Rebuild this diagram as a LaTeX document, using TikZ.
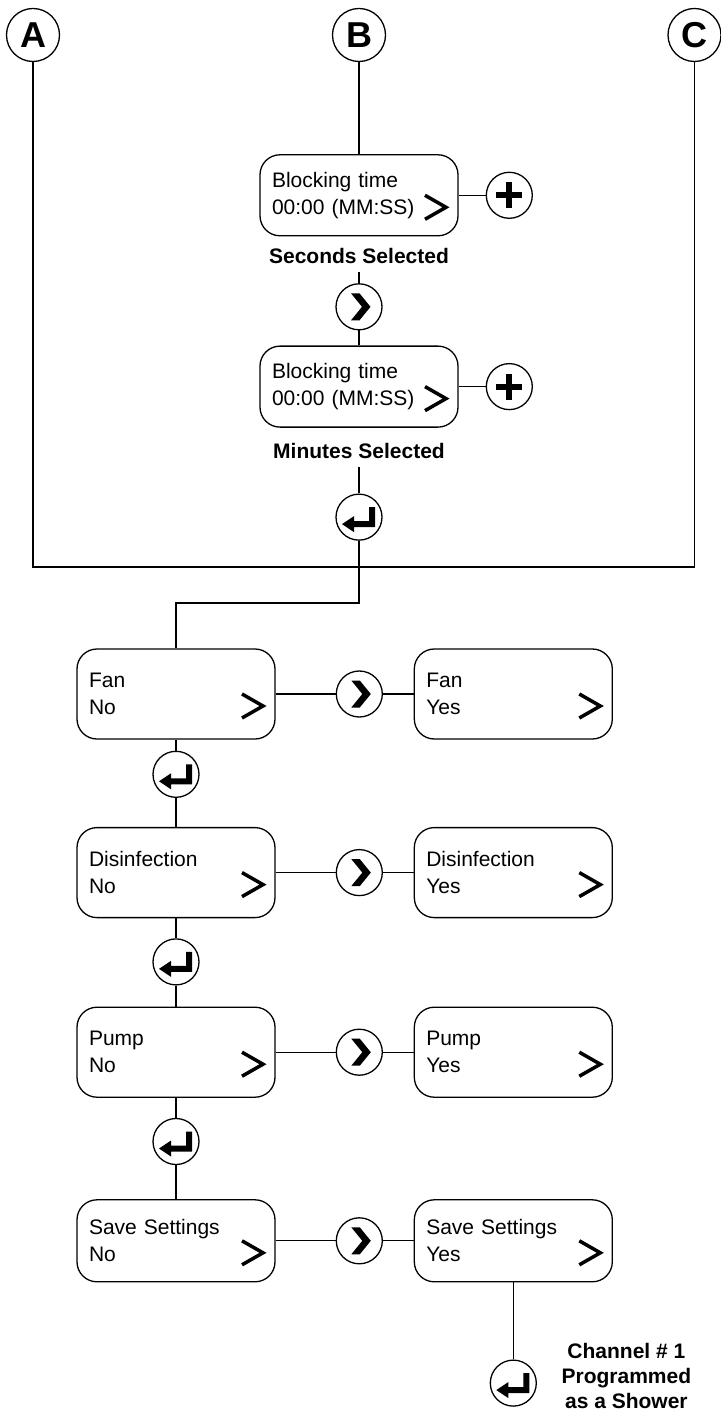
\documentclass[tikz,border=0pt]{standalone}
\usepackage{fontspec}
\setmainfont{Liberation Sans}
\usetikzlibrary{positioning}

\begin{document}
\begin{tikzpicture}[
  x=1pt,y=1pt,line width=0.65pt,
  disp/.style={rectangle,draw,rounded corners=10pt,minimum width=99pt,
               minimum height=45pt,text width=87pt,inner xsep=6pt,
               align=left,font=\fontsize{10.5}{13.5}\selectfont,
               path picture={\draw[sharp corners,line width=1.75pt]
                 ([xshift=-16.5pt,yshift=0pt]path picture bounding box.east)
                 -- ++(10.5pt,-6pt) -- ++(-10.5pt,-6pt);}},
  tag/.style={circle,draw,minimum size=26.5pt,inner sep=0pt,
              font=\fontsize{18}{18}\selectfont\bfseries},
  note/.style={inner xsep=0pt,inner ysep=4pt,align=center,
               font=\fontsize{10.5}{12.5}\selectfont\bfseries},
  btn/.style={circle,draw,minimum size=23pt,inner sep=0pt},
  nextbtn/.style={btn,path picture={\fill[sharp corners,
      shift={(path picture bounding box.center)}]
      (-4pt,6.75pt) -- (0.25pt,6.75pt) -- (5.75pt,0pt) -- (0.25pt,-6.75pt)
      -- (-4pt,-6.75pt) -- (1.5pt,0pt) -- cycle;}},
  plusbtn/.style={btn,path picture={\draw[line width=3pt,
      shift={(path picture bounding box.center)}]
      (-6.5pt,0pt) -- (6.5pt,0pt) (0pt,-6.5pt) -- (0pt,6.5pt);}},
  enterbtn/.style={btn,path picture={\fill[sharp corners,
      shift={(path picture bounding box.center)}]
      (8pt,5pt) -- (8pt,-5pt) -- (-2.5pt,-5pt) -- (-2.5pt,-7.5pt)
      -- (-8.5pt,-3.5pt) -- (-2.5pt,0.5pt) -- (-2.5pt,-2pt)
      -- (5pt,-2pt) -- (5pt,5pt) -- cycle;}}]

\useasboundingbox (0,0) rectangle (360.5,-708);

% entry points
\node[tag] (A) at (16.5,-17.5) {A};
\node[tag] (B) at (179.5,-17.5) {B};
\node[tag] (C) at (347.25,-17.5) {C};

% blocking time
\node[disp,minimum height=40.5pt,below=46pt of B] (sec) {Blocking time\\00:00 (MM:SS)};
\node[plusbtn,right=13.5pt of sec] (incs) {};
\node[note,below=1.5pt of sec] (secsel) {Seconds Selected};
\node[nextbtn,below=5.5pt of secsel] (nxt) {};
\node[disp,minimum height=40.5pt,below=7.5pt of nxt] (min) {Blocking time\\00:00 (MM:SS)};
\node[plusbtn,right=13.5pt of min] (incm) {};
\node[note,below=3.5pt of min] (minsel) {Minutes Selected};
\node[enterbtn,below=13pt of minsel] (ent) {};

\coordinate (bus) at (179.5,-283.5);
\coordinate (step) at (88,-301.5);

% options
\node[disp] (fan no) at (88,-347) {Fan\\No};
\node[enterbtn,below=5.5pt of fan no] (ent2) {};
\node[disp,below=14.5pt of ent2] (dis no) {Disinfection\\No};
\node[enterbtn,below=10pt of dis no] (ent3) {};
\node[disp,below=10.5pt of ent3] (pump no) {Pump\\No};
\node[enterbtn,below=10pt of pump no] (ent4) {};
\node[disp,minimum height=41pt,below=17pt of ent4] (save no) {Save Settings\\No};

\foreach \r/\t/\h in {fan/Fan/45pt,dis/Disinfection/45pt,pump/Pump/45pt,save/Save Settings/41pt}{
  \node[disp,minimum height=\h,right=69pt of \r\space no] (\r\space yes) {\t\\Yes};
  \node[nextbtn,right=30pt of \r\space no] (\r\space nxt) {};
  \draw (\r\space no) -- (\r\space nxt) -- (\r\space yes);
}

\node[enterbtn,below=38.5pt of save yes] (done) {};
\node[note,right=12pt of done,yshift=3.5pt] (prog) {Channel \# 1\\Programmed\\as a Shower};

\draw (A) |- (bus) -| (C);
\draw (B) -- (sec);
\draw (sec) -- (incs);
\draw (secsel) -- (nxt);
\draw (nxt) -- (min);
\draw (min) -- (incm);
\draw (minsel) -- (ent);
\draw (ent) |- (step) -- (fan no);
\draw (fan no) -- (ent2) -- (dis no) -- (ent3) -- (pump no) -- (ent4) -- (save no);
\draw (save yes) -- (done);
\end{tikzpicture}
\end{document}
